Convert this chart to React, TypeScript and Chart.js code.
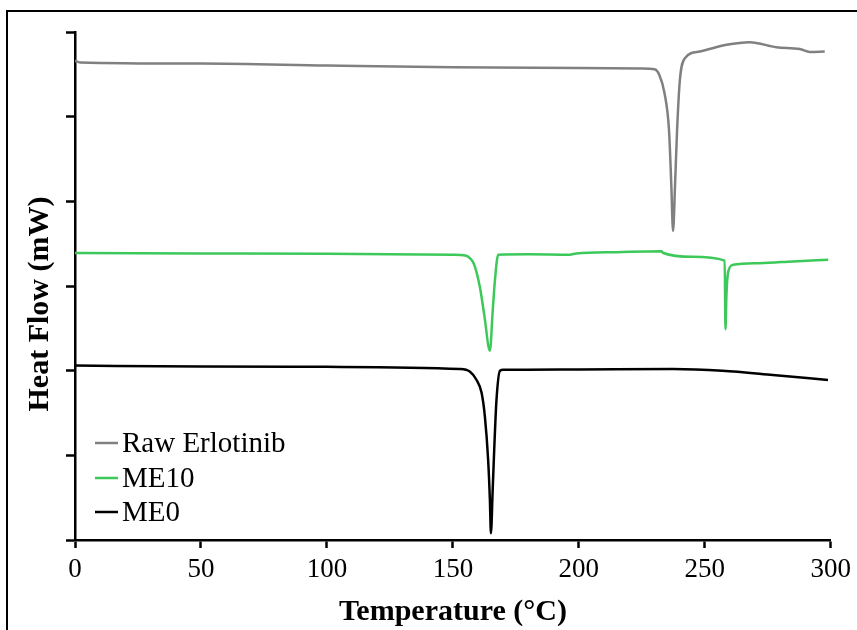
import React, { useEffect, useRef } from "react";
import { Chart, registerables } from "chart.js";

Chart.register(...registerables);

// DSC thermograms: temperature (°C) vs heat flow (arbitrary offset units)
const rawTemp = [0, 2, 50, 100, 150, 200, 225, 230, 232, 234, 235.8, 236.7, 237.4, 238.2, 239.0, 240.1, 242.1, 248, 258.6, 267.9, 278.4, 287.7, 291.7, 297.6];
const rawFlow = [5.66, 5.64, 5.627, 5.605, 5.585, 5.575, 5.568, 5.56, 5.49, 5.28, 4.84, 4.2, 3.65, 4.2, 4.84, 5.43, 5.69, 5.77, 5.85, 5.88, 5.82, 5.8, 5.765, 5.77];

const me10Temp = [0, 50, 100, 150, 155, 156.7, 158.5, 160.7, 162.5, 164.7, 165.8, 166.7, 168, 180, 196.4, 199, 215, 232.8, 233.5, 245, 257.9, 258.2, 258.6, 259.3, 261.2, 271.8, 285, 299];
const me10Flow = [3.39, 3.385, 3.38, 3.37, 3.36, 3.33, 3.25, 2.99, 2.65, 2.236, 2.7, 3.07, 3.37, 3.375, 3.37, 3.385, 3.4, 3.41, 3.39, 3.345, 3.3, 2.49, 2.9, 3.17, 3.25, 3.27, 3.29, 3.31];

const me0Temp = [0, 50, 100, 152.8, 156.7, 159.4, 161.4, 162.7, 164, 164.7, 165.1, 165.8, 166.4, 167.3, 168.7, 170, 200, 237.4, 257, 277, 298.9];
const me0Flow = [2.06, 2.05, 2.045, 2.02, 1.99, 1.89, 1.74, 1.46, 0.945, 0.47, 0.079, 0.59, 1.06, 1.65, 2.0, 2.01, 2.015, 2.02, 2.0, 1.95, 1.89];

const seriesNames = ["Raw Erlotinib", "ME10", "ME0"];
const seriesColors = ["#808080", "#3cc95a", "#000000"];

const xTitle = "Temperature (°C)";
const yTitle = "Heat Flow (mW)";

const SERIF = "'Liberation Serif', 'Times New Roman', serif";

const toPoints = (xs: number[], ys: number[]) => xs.map((x, i) => ({ x, y: ys[i] }));

export default function App() {
  const canvasRef = useRef<HTMLCanvasElement | null>(null);

  useEffect(() => {
    const canvas = canvasRef.current;
    if (!canvas) return;

    const decorations = {
      id: "decorations",
      beforeDraw(chart: any) {
        const ctx = chart.ctx;
        ctx.save();
        ctx.fillStyle = "#ffffff";
        ctx.fillRect(0, 0, chart.width, chart.height);
        ctx.strokeStyle = "#000000";
        ctx.lineWidth = 2;
        ctx.strokeRect(7, 11, 900, 700);
        ctx.restore();
      },
      afterDraw(chart: any) {
        const ctx = chart.ctx;
        const area = chart.chartArea;
        ctx.save();
        // axis titles
        ctx.fillStyle = "#000000";
        ctx.font = `bold 30px ${SERIF}`;
        ctx.textAlign = "center";
        ctx.textBaseline = "middle";
        ctx.fillText(xTitle, 453, 612);
        ctx.translate(40, 304);
        ctx.rotate(-Math.PI / 2);
        ctx.fillText(yTitle, 0, 0);
        ctx.restore();

        // legend inside the plot, lower left
        ctx.save();
        ctx.font = `29px ${SERIF}`;
        ctx.textAlign = "left";
        ctx.textBaseline = "middle";
        const rows = [443, 478, 512];
        seriesNames.forEach((name, i) => {
          const y = rows[i];
          ctx.strokeStyle = seriesColors[i];
          ctx.lineWidth = 2.5;
          ctx.beginPath();
          ctx.moveTo(area.left + 20, y);
          ctx.lineTo(area.left + 43, y);
          ctx.stroke();
          ctx.fillStyle = "#000000";
          ctx.fillText(name, area.left + 47, y + 1);
        });
        ctx.restore();
      },
    };

    const chart = new Chart(canvas, {
      type: "line",
      data: {
        datasets: [
          { label: seriesNames[0], data: toPoints(rawTemp, rawFlow), borderColor: seriesColors[0] },
          { label: seriesNames[1], data: toPoints(me10Temp, me10Flow), borderColor: seriesColors[1] },
          { label: seriesNames[2], data: toPoints(me0Temp, me0Flow), borderColor: seriesColors[2] },
        ].map((d) => ({
          ...d,
          borderWidth: 2.5,
          pointRadius: 0,
          fill: false,
          cubicInterpolationMode: "monotone" as const,
        })),
      },
      options: {
        responsive: false,
        animation: false,
        devicePixelRatio: 1,
        layout: { padding: { left: 0, right: 26, top: 32, bottom: 0 } },
        plugins: {
          legend: { display: false },
          tooltip: { enabled: false },
        },
        scales: {
          x: {
            type: "linear",
            min: 0,
            max: 300,
            border: { display: true, color: "#000000", width: 2.5 },
            grid: {
              drawOnChartArea: false,
              drawTicks: true,
              tickLength: 8,
              tickColor: "#000000",
              tickWidth: 2.5,
            },
            ticks: {
              stepSize: 50,
              color: "#000000",
              padding: 6,
              font: { family: SERIF, size: 27 },
            },
            afterFit: (s: any) => {
              s.height = 90;
            },
          },
          y: {
            type: "linear",
            min: 0,
            max: 6,
            border: { display: true, color: "#000000", width: 2.5 },
            grid: {
              drawOnChartArea: false,
              drawTicks: true,
              tickLength: 9,
              tickColor: "#000000",
              tickWidth: 2.5,
            },
            ticks: {
              stepSize: 1,
              display: false,
            },
            afterFit: (s: any) => {
              s.width = 75;
            },
          },
        },
      },
      plugins: [decorations],
    });

    return () => chart.destroy();
  }, []);

  return (
    <div style={{ position: "fixed", left: 0, top: 0, width: 857, height: 630 }}>
      <canvas ref={canvasRef} width={857} height={630} style={{ display: "block" }} />
    </div>
  );
}
